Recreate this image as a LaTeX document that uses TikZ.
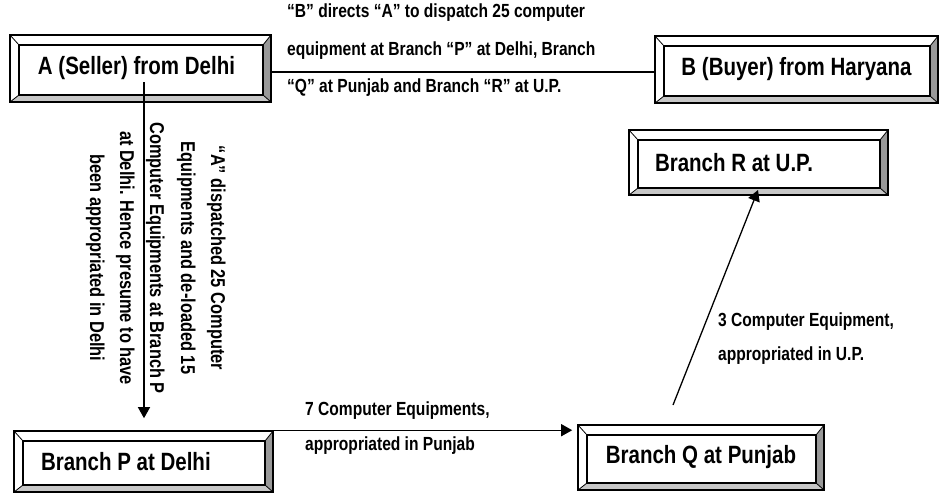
\documentclass[tikz,border=0pt]{standalone}
\usepackage{fontspec}
\setmainfont{Liberation Sans}[FakeStretch=0.82]
\usetikzlibrary{arrows.meta,calc}

\definecolor{bevR}{gray}{0.6}
\definecolor{bevB}{gray}{0.78}

\newcommand\boxfont{\fontsize{25}{30}\selectfont\bfseries}
\newcommand\lblfont{\fontsize{19}{22}\selectfont\bfseries}
\newcommand\vlblfont{\fontsize{20}{24}\selectfont\bfseries}

\tikzset{
  % raised "bevel" box: light top/left faces, grey right/bottom faces
  bevelbox/.style={
    draw=black, line width=1.6pt, inner sep=0pt, font=\boxfont, align=center,
    path picture={
      \coordinate (pnw) at (path picture bounding box.north west);
      \coordinate (pne) at (path picture bounding box.north east);
      \coordinate (psw) at (path picture bounding box.south west);
      \coordinate (pse) at (path picture bounding box.south east);
      \coordinate (inw) at ($(pnw)+(9,10)$);
      \coordinate (ine) at ($(pne)+(-8,10)$);
      \coordinate (isw) at ($(psw)+(9,-7)$);
      \coordinate (ise) at ($(pse)+(-8,-7)$);
      \fill[bevR] (pne) -- (pse) -- (ise) -- (ine) -- cycle;
      \fill[bevB] (psw) -- (pse) -- (ise) -- (isw) -- cycle;
      \draw[line width=1.3pt] (inw) rectangle (ise);
      \draw[line width=0.8pt] (pnw) -- (inw) (pne) -- (ine) (psw) -- (isw) (pse) -- (ise);
    }},
  leftbox/.style={bevelbox, align=flush left},
  lbl/.style={font=\lblfont, inner sep=0pt, anchor=base west},
  vlbl/.style={font=\vlblfont, inner sep=0pt, anchor=base, rotate=-90},
  conn/.style={line width=1.3pt},
  arr/.style={line width=1.3pt, -{Triangle[width=12pt,length=11pt]}}
}

\begin{document}
\begin{tikzpicture}[x=1pt,y=-1pt]
\useasboundingbox (0,0) rectangle (941,493);

% boxes
\node[bevelbox, minimum width=261pt, minimum height=67pt, inner xsep=0pt, xshift=0pt] (A) at (140.5,68.5) {A (Seller) from Delhi\hspace*{8pt}};
\node[bevelbox, minimum width=283pt, minimum height=67pt] (B) at (796.5,69.5) {B (Buyer) from Haryana};
\node[leftbox, minimum width=259pt, minimum height=65pt, text width=207pt, inner xsep=26pt] (R) at (758.5,162.5) {Branch R at U.P.};
\node[leftbox, minimum width=259pt, minimum height=61pt, text width=205pt, inner xsep=27pt] (P) at (143.5,461.5) {Branch P at Delhi};
\node[bevelbox, minimum width=246pt, minimum height=65pt] (Q) at (701,457.5) {Branch Q at Punjab};

% A -- B
\draw[conn] ($(A.east)+(0,3.5)$) coordinate (ab) -- (ab -| B.west);
\node[lbl] (t1) at (287,17) {“B” directs “A” to dispatch 25 computer};
\node[lbl] (t2) at (287,55) {equipment at Branch “P” at Delhi, Branch};
\node[lbl] (t3) at (287,92) {“Q” at Punjab and Branch “R” at U.P.};

% A -> P
\coordinate (a0) at (144,82);
\draw[arr, shorten >=12pt] (a0) -- (a0 |- P.north);
\node[vlbl] (v1) at (211,258) {“A” dispatched 25 Computer};
\node[vlbl] (v2) at (181,258) {Equipments and de-loaded 15};
\node[vlbl] (v3) at (150,258) {Computer Equipments at Branch P};
\node[vlbl] (v4) at (120,258) {at Delhi. Hence presume to have};
\node[vlbl] (v5) at (90,258) {been appropriated in Delhi};

% P -> Q
\draw[arr, shorten >=5pt] (P.north east) -- (P.north east -| Q.west);
\node[lbl] (b1) at (305,415) {7 Computer Equipments,};
\node[lbl] (b2) at (305,450) {appropriated in Punjab};

% Q -> R
\coordinate (q0) at (673,405);
\draw[arr] (q0) -- (758,190);
\node[lbl] (c1) at (718,326) {3 Computer Equipment,};
\node[lbl] (c2) at (718,360) {appropriated in U.P.};
\end{tikzpicture}
\end{document}
